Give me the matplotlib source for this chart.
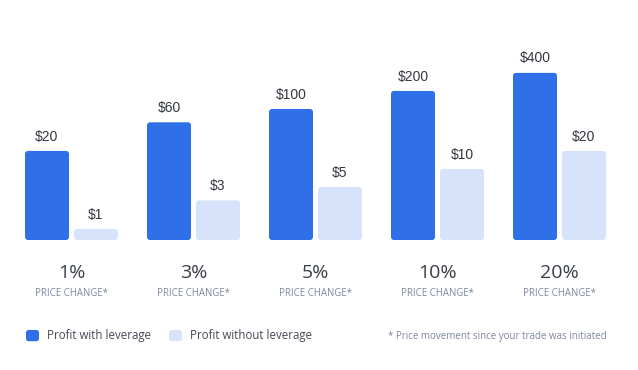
import numpy as np
import matplotlib
matplotlib.use("Agg")
import matplotlib.pyplot as plt
from matplotlib.patches import FancyBboxPatch, Patch
from matplotlib.legend_handler import HandlerPatch
from matplotlib.transforms import IdentityTransform

# Данные графика
price_changes = ["1%", "3%", "5%", "10%", "20%"]
with_leverage = [20, 60, 100, 200, 400]
without_leverage = [1, 3, 5, 10, 20]
with_labels = ["$20", "$60", "$100", "$200", "$400"]
without_labels = ["$1", "$3", "$5", "$10", "$20"]

dark_blue = "#2f6fe8"
light_blue = "#d6e3fa"
text_dark = "#333740"
text_gray = "#7d879e"

fig = plt.figure(figsize=(6.38, 3.70), dpi=100)
fig.patch.set_facecolor("white")
ax = fig.add_axes([0, 130 / 370, 1, 240 / 370])

# логарифмическая шкала (столбики на картинке идут по логарифму)
base = 10 ** (-11 / 60)
ax.set_yscale("log")
ax.set_ylim(base, base * 10 ** 4)
ax.set_xlim(-71.5 / 122, (638 - 71.5) / 122)
ax.axis("off")

x = np.arange(len(price_changes))
w = 44 / 122
off = 24.5 / 122
bars1 = ax.bar(x - off, np.array(with_leverage) - base, w, bottom=base, color=dark_blue)
bars2 = ax.bar(x + off, np.array(without_leverage) - base, w, bottom=base, color=light_blue)

# подписи над столбиками
for bars, labels in [(bars1, with_labels), (bars2, without_labels)]:
    for b, lab in zip(bars, labels):
        ax.annotate(lab, (b.get_x() + b.get_width() / 2, b.get_y() + b.get_height()),
                    xytext=(0, 7.5), textcoords="offset points", ha="center", va="baseline",
                    fontsize=10, color=text_dark, family="Liberation Sans")

# подписи групп
for xi, pc in zip(x, price_changes):
    ax.text(xi, -0.1375, pc, transform=ax.get_xaxis_transform(), ha="center", va="center",
            fontsize=14, color="#3a3e47", family="Open Sans")
    ax.text(xi, -0.225, "PRICE CHANGE*", transform=ax.get_xaxis_transform(), ha="center",
            va="center", fontsize=6.9, color=text_gray, family="Open Sans")

# скругляем углы: заменяем прямоугольники на FancyBboxPatch в пикселях
fig.canvas.draw()
r = 3
for bars in [bars1, bars2]:
    for b in bars:
        bb = b.get_window_extent()
        fb = FancyBboxPatch((bb.x0 + r, bb.y0 + r), bb.width - 2 * r, bb.height - 2 * r,
                            boxstyle=f"round,pad={r}", transform=IdentityTransform(),
                            facecolor=b.get_facecolor(), edgecolor="none")
        fig.add_artist(fb)
        b.set_visible(False)


def round_square(legend, orig_handle, xdescent, ydescent, width, height, fontsize):
    return FancyBboxPatch((-xdescent + 2, -ydescent + 2), width - 4, height - 4,
                          boxstyle="round,pad=2")


# легенда
handles = [Patch(facecolor=dark_blue, label="Profit with leverage"),
           Patch(facecolor=light_blue, label="Profit without leverage")]
fig.legend(handles=handles, loc="center left", bbox_to_anchor=(26 / 638, 1 - 336 / 370),
           ncol=2, frameon=False, handlelength=1.13, handleheight=1.13,
           handletextpad=0.7, columnspacing=1.55, borderpad=0, borderaxespad=0,
           labelcolor="#444a55", prop={"family": "Open Sans", "size": 8.3},
           handler_map={Patch: HandlerPatch(patch_func=round_square)})

fig.text(607 / 638, 1 - 336 / 370, "* Price movement since your trade was initiated",
         ha="right", va="center", fontsize=7, color=text_gray, family="Open Sans")

fig.savefig("out.png", dpi=100)
